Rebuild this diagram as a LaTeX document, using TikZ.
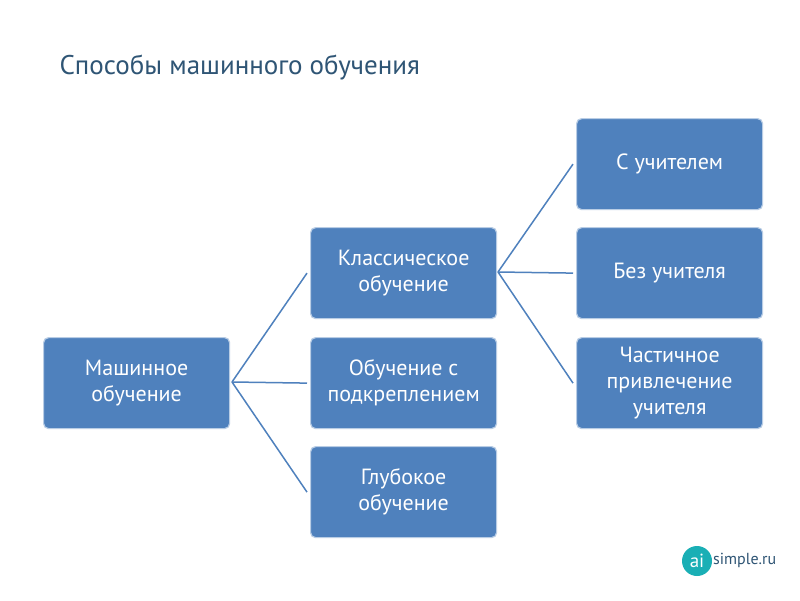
\documentclass[tikz,border=0pt]{standalone}
\usepackage{fontspec}
\setmainfont{PT Sans}
\begin{document}
\begin{tikzpicture}[x=1pt,y=-1pt,
  bx/.style={draw=white!60!boxc, line width=1.2pt, fill=boxc, rounded corners=5pt, minimum width=186pt, minimum height=91pt, text=white, align=center, font=\fontsize{22}{26}\selectfont, anchor=north west},
  ln/.style={draw=boxc, line width=1.5pt}]
\definecolor{boxc}{HTML}{4F81BD}
\definecolor{titc}{HTML}{2F5575}
\definecolor{tealc}{HTML}{1AAFB5}
\useasboundingbox (0,0) rectangle (800,600);
\fill[white] (0,0) rectangle (800,600);
\node[anchor=west, text=titc, font=\fontsize{27}{30}\selectfont] (title) at (56,67) {Способы машинного обучения};
\node[bx] (ml) at (43,337) {Машинное\\обучение};
\node[bx] (cl) at (310,227) {Классическое\\обучение};
\node[bx] (rl) at (310,337) {Обучение с\\подкреплением};
\node[bx] (dl) at (310,446) {Глубокое\\обучение};
\node[bx] (sv) at (576,118) {С учителем};
\node[bx] (us) at (576,227) {Без учителя};
\node[bx] (ss) at (576,337) {Частичное\\привлечение\\учителя};
\coordinate (a) at (232,382);
\coordinate (b) at (498,272);
\draw[ln] (a) -- ([xshift=-3pt]cl.west);
\draw[ln] (a) -- ([xshift=-3pt]rl.west);
\draw[ln] (a) -- ([xshift=-3pt]dl.west);
\draw[ln] (b) -- ([xshift=-3pt]sv.west);
\draw[ln] (b) -- ([xshift=-3pt]us.west);
\draw[ln] (b) -- ([xshift=-3pt]ss.west);
\node[circle, fill=tealc, minimum size=30pt, inner sep=0pt, text=white, font=\fontsize{19}{20}\selectfont] (logo) at (697,561) {ai};
\node[anchor=west, text=titc, font=\fontsize{16}{18}\selectfont, inner sep=0pt] (site) at (713,560) {simple.ru};
\end{tikzpicture}
\end{document}
